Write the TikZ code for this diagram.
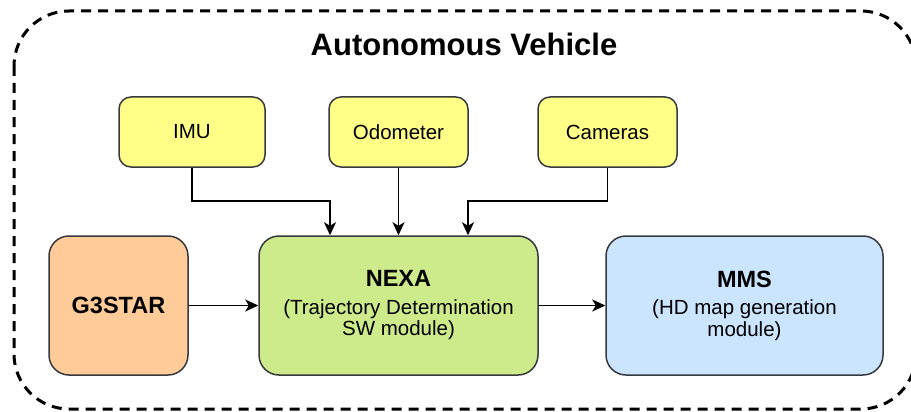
\documentclass[tikz,border=0pt]{standalone}
\usepackage{fontspec}
\setmainfont{Liberation Sans}
\usetikzlibrary{arrows.meta,calc}
\definecolor{strk}{HTML}{36393D}
\definecolor{yel}{HTML}{FFFF88}
\definecolor{grn}{HTML}{CDEB8B}
\definecolor{org}{HTML}{FFCC99}
\definecolor{blu}{HTML}{CCE5FF}
\tikzset{
  sensor/.style={draw=strk, line width=1.5pt, fill=yel, rounded corners=12pt,
    minimum height=70pt, inner sep=0pt, font=\fontsize{20.5}{22}\selectfont},
  bigbox/.style={draw=strk, line width=1.5pt, rounded corners=20pt,
    minimum height=139pt, inner sep=0pt, align=center,
    font=\fontsize{20.5}{21.5}\selectfont},
  arr/.style={line width=1.5pt, -{Stealth[length=13pt,width=12pt,inset=3.5pt]}},
  border/.style={line width=3pt, dash pattern=on 10pt off 7pt, rounded corners=55pt}
}
\begin{document}
\begin{tikzpicture}[x=1pt,y=-1pt]
\useasboundingbox (0,0) rectangle (911,412);
\draw[border] (14,11) rectangle (916,409);
\node[font=\fontsize{31}{33}\selectfont\bfseries, anchor=base] (title) at (464,56) {Autonomous Vehicle};

\node[sensor, minimum width=146pt] (imu) at (192,132) {IMU};
\node[sensor, minimum width=139pt] (odo) at (398.5,132) {Odometer};
\node[sensor, minimum width=139pt] (cam) at (607.5,132) {Cameras};

\node[bigbox, fill=org, minimum width=139pt] (g3) at (118.5,305.5) {\fontsize{23.5}{25}\selectfont\bfseries G3STAR};
\node[bigbox, fill=grn, minimum width=279pt] (nexa) at (398.5,305.5)
  {{\fontsize{23.5}{25}\selectfont\bfseries NEXA}\\[6pt](Trajectory Determination\\SW module)};
\node[bigbox, fill=blu, minimum width=277pt] (mms) at (744.5,305.5)
  {{\fontsize{23.5}{25}\selectfont\bfseries MMS}\\[6pt](HD map generation\\module)};

\coordinate (j1) at (330,201);
\coordinate (j3) at (468,201);
\draw[arr] (imu.south) |- (j1) -- (j1 |- nexa.north);
\draw[arr] (odo.south) -- (odo.south |- nexa.north);
\draw[arr] (cam.south) |- (j3) -- (j3 |- nexa.north);
\draw[arr] (g3.east) -- (nexa.west);
\draw[arr] (nexa.east) -- (mms.west);
\end{tikzpicture}
\end{document}
